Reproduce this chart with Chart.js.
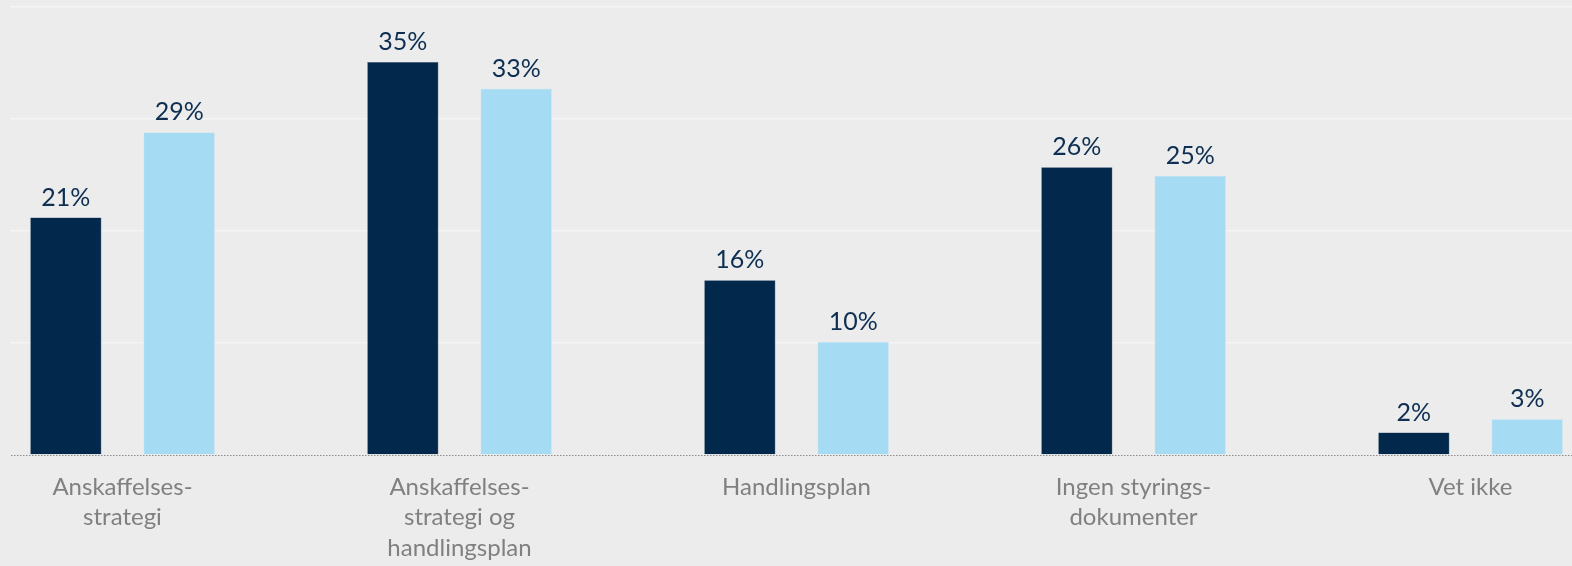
<!DOCTYPE html>
<html lang="no">
  <head>
    <meta charset="utf-8" />
    <title>Styringsdokumenter</title>
    <script src="https://cdn.jsdelivr.net/npm/chart.js"></script>
    <style>
      html, body { margin: 0; padding: 0; background: #ececec; }
      .clip { position: absolute; left: 10px; top: 0; width: 1562px; height: 566px; overflow: hidden; }
      .wide { position: absolute; left: -56px; top: 0; width: 1685px; height: 566px; }
    </style>
  </head>
  <body>
    <div class="clip">
      <div class="wide">
        <canvas id="chart"></canvas>
      </div>
    </div>
    <script>
      const categories = [
        ["Anskaffelses-", "strategi"],
        ["Anskaffelses-", "strategi og", "handlingsplan"],
        "Handlingsplan",
        ["Ingen styrings-", "dokumenter"],
        "Vet ikke"
      ];
      const seriesA = [21.2, 35.1, 15.6, 25.7, 2.0];
      const seriesB = [28.8, 32.7, 10.1, 24.9, 3.2];
      const yTicks = [0, 10, 20, 30, 40];

      const FONT = "Lato, 'Open Sans', sans-serif";

      // dotted zero line + percent labels above each bar
      const valueLabels = {
        id: "valueLabels",
        afterDatasetsDraw(chart) {
          const ctx = chart.ctx;
          const area = chart.chartArea;
          const y0 = Math.round(chart.scales.y.getPixelForValue(0)) + 0.5;
          ctx.save();
          ctx.strokeStyle = "#8c8c8c";
          ctx.lineWidth = 1;
          ctx.setLineDash([1.5, 1.5]);
          ctx.beginPath();
          ctx.moveTo(area.left, y0);
          ctx.lineTo(area.right, y0);
          ctx.stroke();
          ctx.setLineDash([]);

          ctx.font = "25px " + FONT;
          ctx.fillStyle = "#0e2f52";
          ctx.textAlign = "center";
          ctx.textBaseline = "alphabetic";
          chart.data.datasets.forEach((ds, i) => {
            chart.getDatasetMeta(i).data.forEach((bar, j) => {
              ctx.fillText(Math.round(ds.data[j]) + "%", bar.x, bar.y - 12);
            });
          });
          ctx.restore();
        }
      };

      new Chart(document.getElementById("chart"), {
        type: "bar",
        data: {
          labels: categories,
          datasets: [
            { data: seriesA, backgroundColor: "#02294b", borderColor: "#3a5470", borderWidth: 0.5 },
            { data: seriesB, backgroundColor: "#a6dcf3", borderColor: "#b8e2f4", borderWidth: 0.5 }
          ]
        },
        options: {
          responsive: true,
          maintainAspectRatio: false,
          animation: false,
          layout: { padding: { top: 7, left: 0, right: 0, bottom: 0 } },
          categoryPercentage: 0.6726,
          barPercentage: 0.628,
          plugins: { legend: { display: false }, tooltip: { enabled: false } },
          scales: {
            x: {
              grid: { display: false, drawTicks: false },
              border: { display: false },
              ticks: {
                color: "#808080",
                font: { family: FONT, size: 24, lineHeight: 1.27 },
                padding: 17,
                maxRotation: 0,
                autoSkip: false
              },
              afterFit(scale) { scale.height = 111; }
            },
            y: {
              min: 0,
              max: 40,
              afterBuildTicks(scale) { scale.ticks = yTicks.map(v => ({ value: v })); },
              grid: {
                color: (c) => c.tick && c.tick.value === 0 ? "rgba(0,0,0,0)" : "#f4f4f4",
                lineWidth: 1.5,
                drawTicks: false
              },
              border: { display: false },
              ticks: { display: false }
            }
          }
        },
        plugins: [valueLabels]
      });
    </script>
  </body>
</html>
